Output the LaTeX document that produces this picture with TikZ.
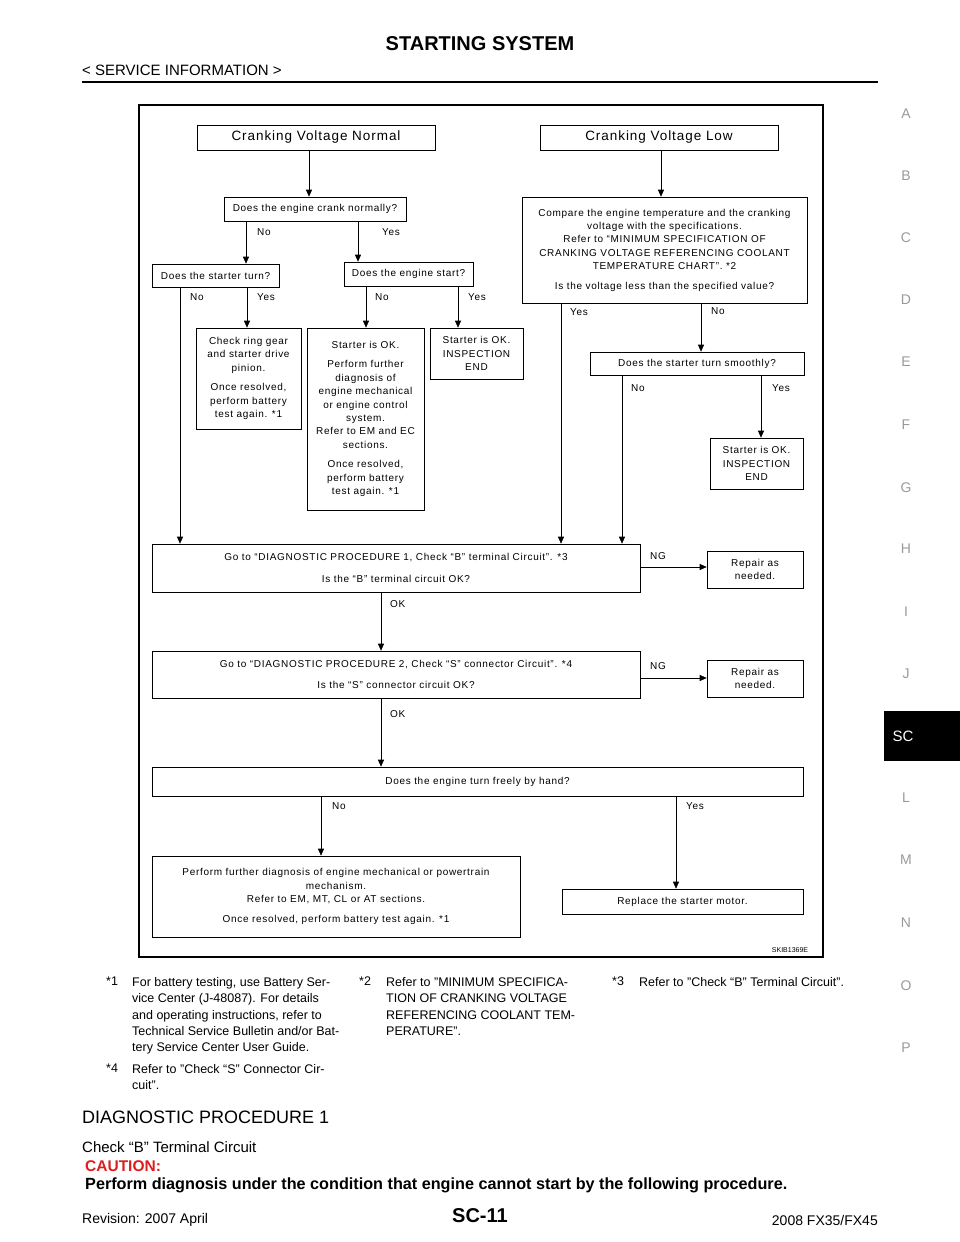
\documentclass[tikz,border=0pt]{standalone}
\usepackage{fontspec}
\setmainfont{Liberation Sans}
\newfontfamily\fcfont[LetterSpace=7]{Liberation Sans}
\usetikzlibrary{arrows.meta}
\begin{document}
\begin{tikzpicture}[x=1pt,y=-1pt,
  fc/.style={font=\fcfont\fontsize{10}{13.4}\selectfont},
  lbl/.style={fc,anchor=west,inner sep=0pt},
  arr/.style={-{Triangle[length=7pt,width=6pt]},line width=0.6pt},
  side/.style={text=black!40,font=\fontsize{14}{14}\selectfont},
  foot/.style={font=\fontsize{12.5}{16.4}\selectfont,anchor=north west,inner sep=0pt,align=left}]
\useasboundingbox (0,0) rectangle (960,1242);
\newcommand\bx[6]{\node[draw,line width=0.6pt,fc,align=center,inner sep=1pt,minimum width={#4-#2},minimum height={#5-#3}] (#1) at ({(#2+#4)/2},{(#3+#5)/2}) {#6};}
% header
\node[font=\bfseries\fontsize{20}{20}\selectfont] (h1) at (480,44) {STARTING SYSTEM};
\node[anchor=west,inner sep=0pt,font=\fontsize{15}{15}\selectfont] (h2) at (82,70) {< SERVICE INFORMATION >};
\draw[line width=2pt] (82,82) -- (878,82);
\foreach \l/\y in {A/114,B/176,C/238,D/300,E/362,F/425,G/488,H/549,I/612,J/674,L/798,M/860,N/923,O/986,P/1048}
  \node[side] at (906,\y) {\l};
\fill[black] (884,711) rectangle (960,761);
\node[text=white,font=\fontsize{15}{15}\selectfont] (sc) at (903,736) {SC};
% frame
\draw[line width=1.2pt] (139,105) rectangle (823,957);
\node[font=\fontsize{7}{7}\selectfont] (id) at (790,950) {SKIB1369E};
% boxes
\bx{cvn}{197}{125}{435}{150}{\fontsize{13.5}{13.5}\selectfont Cranking Voltage Normal}
\bx{cvl}{540}{125}{778}{150}{\fontsize{13.5}{13.5}\selectfont Cranking Voltage Low}
\bx{crank}{224}{197}{406}{221}{Does the engine crank normally?}
\bx{cmp}{522}{197}{807}{303}{Compare the engine temperature and the cranking\\voltage with the specifications.\\Refer to “MINIMUM SPECIFICATION OF\\CRANKING VOLTAGE REFERENCING COOLANT\\TEMPERATURE CHART”. *2\\[6pt]Is the voltage less than the specified value?}
\bx{sturn}{152}{264}{279}{287}{Does the starter turn?}
\bx{estart}{344}{262}{473}{286}{Does the engine start?}
\bx{ring}{196}{328}{301}{429}{Check ring gear\\and starter drive\\pinion.\\[6pt]Once resolved,\\perform battery\\test again. *1}
\bx{perf}{307}{328}{424}{510}{Starter is OK.\\[6pt]Perform further\\diagnosis of\\engine mechanical\\or engine control\\system.\\Refer to EM and EC\\sections.\\[6pt]Once resolved,\\perform battery\\test again. *1}
\bx{end1}{430}{328}{523}{379}{Starter is OK.\\INSPECTION\\END}
\bx{smooth}{590}{352}{804}{375}{Does the starter turn smoothly?}
\bx{end2}{710}{438}{803}{489}{Starter is OK.\\INSPECTION\\END}
\bx{d1}{152}{544}{640}{592}{Go to “DIAGNOSTIC PROCEDURE 1, Check “B” terminal Circuit”. *3\\[8pt]Is the “B” terminal circuit OK?}
\bx{r1}{707}{551}{803}{588}{Repair as\\needed.}
\bx{d2}{152}{651}{640}{698}{Go to “DIAGNOSTIC PROCEDURE 2, Check “S” connector Circuit”. *4\\[8pt]Is the “S” connector circuit OK?}
\bx{r2}{707}{660}{803}{697}{Repair as\\needed.}
\bx{free}{152}{767}{803}{796}{Does the engine turn freely by hand?}
\bx{pf}{152}{856}{520}{937}{Perform further diagnosis of engine mechanical or powertrain\\mechanism.\\Refer to EM, MT, CL or AT sections.\\[6pt]Once resolved, perform battery test again. *1}
\bx{rep}{562}{889}{803}{914}{Replace the starter motor.}
% arrows
\draw[arr] (cvn.south -| 309,0) -- (crank.north -| 309,0);
\draw[arr] (cvl.south -| 661,0) -- (cmp.north -| 661,0);
\draw[arr] (crank.south -| 246,0) -- (sturn.north -| 246,0); \node[lbl] at (257,232) {No};
\draw[arr] (crank.south -| 358,0) -- (estart.north -| 358,0); \node[lbl] at (382,232) {Yes};
\draw[arr] (sturn.south -| 180,0) -- (d1.north -| 180,0); \node[lbl] at (190,297) {No};
\draw[arr] (sturn.south -| 247,0) -- (ring.north -| 247,0); \node[lbl] at (257,297) {Yes};
\draw[arr] (estart.south -| 366,0) -- (perf.north -| 366,0); \node[lbl] at (375,297) {No};
\draw[arr] (estart.south -| 458,0) -- (end1.north -| 458,0); \node[lbl] at (468,297) {Yes};
\draw[arr] (cmp.south -| 561,0) -- (d1.north -| 561,0); \node[lbl] at (570,312) {Yes};
\draw[arr] (cmp.south -| 701,0) -- (smooth.north -| 701,0); \node[lbl] at (711,311) {No};
\draw[arr] (smooth.south -| 622,0) -- (d1.north -| 622,0); \node[lbl] at (631,388) {No};
\draw[arr] (smooth.south -| 761,0) -- (end2.north -| 761,0); \node[lbl] at (772,388) {Yes};
\draw[arr] (d1.east |- 0,567) -- (r1.west |- 0,567); \node[lbl] at (650,556) {NG};
\draw[arr] (d1.south -| 381,0) -- (d2.north -| 381,0); \node[lbl] at (390,604) {OK};
\draw[arr] (d2.east |- 0,678) -- (r2.west |- 0,678); \node[lbl] at (650,666) {NG};
\draw[arr] (d2.south -| 381,0) -- (free.north -| 381,0); \node[lbl] at (390,714) {OK};
\draw[arr] (free.south -| 321,0) -- (pf.north -| 321,0); \node[lbl] at (332,806) {No};
\draw[arr] (free.south -| 676,0) -- (rep.north -| 676,0); \node[lbl] at (686,806) {Yes};
% footnotes
\node[foot] at (106,977) {*1};
\node[foot] at (132,977) {For battery testing, use Battery Ser-\\vice Center (J-48087). For details\\and operating instructions, refer to\\Technical Service Bulletin and/or Bat-\\tery Service Center User Guide.};
\node[foot] at (359,977) {*2};
\node[foot] at (386,977) {Refer to "MINIMUM SPECIFICA-\\TION OF CRANKING VOLTAGE\\REFERENCING COOLANT TEM-\\PERATURE".};
\node[foot] at (612,977) {*3};
\node[foot] at (639,977) {Refer to "Check “B” Terminal Circuit".};
\node[foot] at (106,1064) {*4};
\node[foot] at (132,1064) {Refer to "Check “S” Connector Cir-\\cuit".};
\node[anchor=west,inner sep=0pt,font=\fontsize{18}{18}\selectfont] at (82,1117) {DIAGNOSTIC PROCEDURE 1};
\node[anchor=west,inner sep=0pt,font=\fontsize{15}{15}\selectfont] at (82,1147) {Check “B” Terminal Circuit};
\node[anchor=west,inner sep=0pt,font=\bfseries\fontsize{15.5}{15.5}\selectfont,text={rgb,255:red,220;green,30;blue,30}] at (85,1166) {CAUTION:};
\node[anchor=west,inner sep=0pt,font=\bfseries\fontsize{16.2}{16.2}\selectfont] at (85,1185) {Perform diagnosis under the condition that engine cannot start by the following procedure.};
\node[anchor=west,inner sep=0pt,font=\fontsize{14}{14}\selectfont] at (82,1220) {Revision: 2007 April};
\node[font=\bfseries\fontsize{20}{20}\selectfont] at (480,1216) {SC-11};
\node[anchor=east,inner sep=0pt,font=\fontsize{14}{14}\selectfont] at (878,1220) {2008 FX35/FX45};
\end{tikzpicture}
\end{document}
